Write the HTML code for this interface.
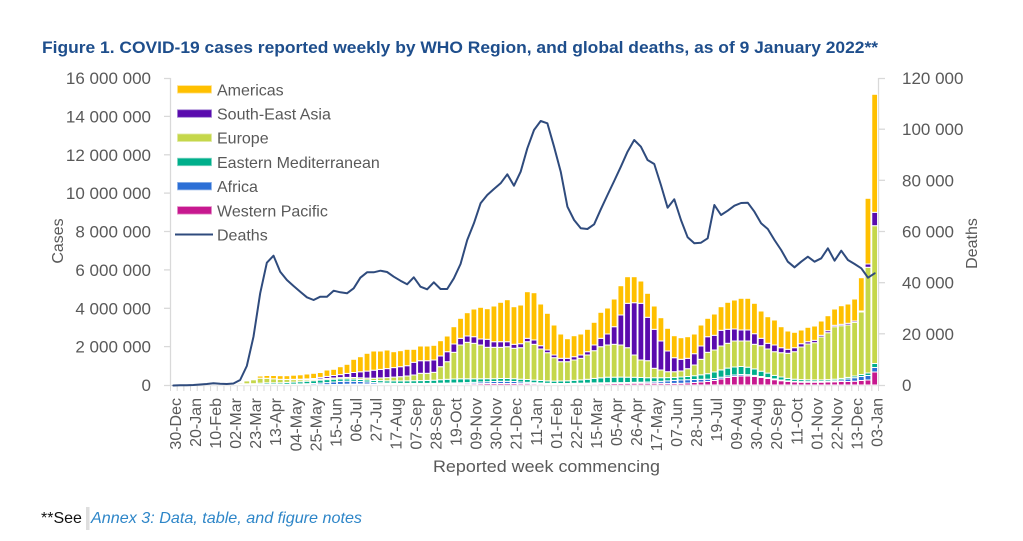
<!DOCTYPE html>
<html>
<head>
<meta charset="utf-8">
<style>
  html,body{margin:0;padding:0;background:#fff;}
  svg{display:block;}
  text{font-family:"Liberation Sans",Arial,sans-serif;}
</style>
</head>
<body>
<svg id="c" xmlns="http://www.w3.org/2000/svg" width="1023" height="541" viewBox="0 0 1023 541">
  <rect x="0" y="0" width="1023" height="541" fill="#ffffff"/>

  <!-- Title -->
  <text x="42" y="53" font-size="17" font-weight="bold" fill="#1E4E8C" textLength="836" lengthAdjust="spacingAndGlyphs">Figure 1. COVID-19 cases reported weekly by WHO Region, and global deaths, as of 9 January 2022**</text>

  <!-- Axes lines -->
  <g stroke="#D9D9D9" stroke-width="1.3" fill="none">
    <line x1="170.5" y1="78" x2="170.5" y2="385.5"/>
    <line x1="878.5" y1="78" x2="878.5" y2="385.5"/>
    <line x1="170" y1="385.5" x2="879" y2="385.5"/>
    <!-- left ticks -->
    <line x1="164" y1="385.5" x2="170.5" y2="385.5"/>
    <line x1="164" y1="346.6" x2="170.5" y2="346.6"/>
    <line x1="164" y1="308.3" x2="170.5" y2="308.3"/>
    <line x1="164" y1="269.9" x2="170.5" y2="269.9"/>
    <line x1="164" y1="231.5" x2="170.5" y2="231.5"/>
    <line x1="164" y1="193.1" x2="170.5" y2="193.1"/>
    <line x1="164" y1="154.8" x2="170.5" y2="154.8"/>
    <line x1="164" y1="116.4" x2="170.5" y2="116.4"/>
    <line x1="164" y1="78.5" x2="170.5" y2="78.5"/>
    <!-- right ticks -->
    <line x1="878.5" y1="385.5" x2="885" y2="385.5"/>
    <line x1="878.5" y1="333.8" x2="885" y2="333.8"/>
    <line x1="878.5" y1="282.7" x2="885" y2="282.7"/>
    <line x1="878.5" y1="231.5" x2="885" y2="231.5"/>
    <line x1="878.5" y1="180.3" x2="885" y2="180.3"/>
    <line x1="878.5" y1="129.2" x2="885" y2="129.2"/>
    <line x1="878.5" y1="78.5" x2="885" y2="78.5"/>
  </g>
  <g id="xticks" stroke="#D9D9D9" stroke-width="1"></g>

  <!-- Left axis labels -->
  <g font-size="17" fill="#595959" text-anchor="end">
    <text x="151" y="391">0</text>
    <text x="151" y="352.6">2 000 000</text>
    <text x="151" y="314.3">4 000 000</text>
    <text x="151" y="275.9">6 000 000</text>
    <text x="151" y="237.5">8 000 000</text>
    <text x="151" y="199.1">10 000 000</text>
    <text x="151" y="160.8">12 000 000</text>
    <text x="151" y="122.4">14 000 000</text>
    <text x="151" y="84">16 000 000</text>
  </g>
  <!-- Right axis labels -->
  <g font-size="17" fill="#595959" text-anchor="start">
    <text x="902" y="391">0</text>
    <text x="902" y="339.8">20 000</text>
    <text x="902" y="288.7">40 000</text>
    <text x="902" y="237.5">60 000</text>
    <text x="902" y="186.3">80 000</text>
    <text x="902" y="135.2">100 000</text>
    <text x="902" y="84">120 000</text>
  </g>

  <!-- Axis titles -->
  <text transform="translate(63,241) rotate(-90)" font-size="16" fill="#595959" text-anchor="middle">Cases</text>
  <text transform="translate(977,243.5) rotate(-90)" font-size="16" fill="#595959" text-anchor="middle">Deaths</text>
  <text x="433" y="472" font-size="17" fill="#595959" textLength="227" lengthAdjust="spacingAndGlyphs">Reported week commencing</text>

  <!-- Bars and line -->
  <g id="bars"></g>
  <polyline id="deaths" fill="none" stroke="#2F4B7D" stroke-width="2" stroke-linejoin="round" stroke-linecap="round" points=""/>

  <!-- X tick labels -->
  <g font-size="16" fill="#595959" text-anchor="end">
    <text transform="translate(181.0,398) rotate(-90)">30-Dec</text>
    <text transform="translate(201.1,398) rotate(-90)">20-Jan</text>
    <text transform="translate(221.1,398) rotate(-90)">10-Feb</text>
    <text transform="translate(241.2,398) rotate(-90)">02-Mar</text>
    <text transform="translate(261.2,398) rotate(-90)">23-Mar</text>
    <text transform="translate(281.2,398) rotate(-90)">13-Apr</text>
    <text transform="translate(301.3,398) rotate(-90)">04-May</text>
    <text transform="translate(321.3,398) rotate(-90)">25-May</text>
    <text transform="translate(341.4,398) rotate(-90)">15-Jun</text>
    <text transform="translate(361.4,398) rotate(-90)">06-Jul</text>
    <text transform="translate(381.4,398) rotate(-90)">27-Jul</text>
    <text transform="translate(401.5,398) rotate(-90)">17-Aug</text>
    <text transform="translate(421.5,398) rotate(-90)">07-Sep</text>
    <text transform="translate(441.6,398) rotate(-90)">28-Sep</text>
    <text transform="translate(461.6,398) rotate(-90)">19-Oct</text>
    <text transform="translate(481.6,398) rotate(-90)">09-Nov</text>
    <text transform="translate(501.7,398) rotate(-90)">30-Nov</text>
    <text transform="translate(521.7,398) rotate(-90)">21-Dec</text>
    <text transform="translate(541.8,398) rotate(-90)">11-Jan</text>
    <text transform="translate(561.8,398) rotate(-90)">01-Feb</text>
    <text transform="translate(581.8,398) rotate(-90)">22-Feb</text>
    <text transform="translate(601.9,398) rotate(-90)">15-Mar</text>
    <text transform="translate(621.9,398) rotate(-90)">05-Apr</text>
    <text transform="translate(642.0,398) rotate(-90)">26-Apr</text>
    <text transform="translate(662.0,398) rotate(-90)">17-May</text>
    <text transform="translate(682.0,398) rotate(-90)">07-Jun</text>
    <text transform="translate(702.1,398) rotate(-90)">28-Jun</text>
    <text transform="translate(722.1,398) rotate(-90)">19-Jul</text>
    <text transform="translate(742.2,398) rotate(-90)">09-Aug</text>
    <text transform="translate(762.2,398) rotate(-90)">30-Aug</text>
    <text transform="translate(782.2,398) rotate(-90)">20-Sep</text>
    <text transform="translate(802.3,398) rotate(-90)">11-Oct</text>
    <text transform="translate(822.3,398) rotate(-90)">01-Nov</text>
    <text transform="translate(842.4,398) rotate(-90)">22-Nov</text>
    <text transform="translate(862.4,398) rotate(-90)">13-Dec</text>
    <text transform="translate(882.4,398) rotate(-90)">03-Jan</text>
  </g>

  <!-- Legend -->
  <g stroke-width="0.8">
    <rect x="177.5" y="85.6" width="34" height="7.5" fill="#FFC000" stroke="#FFE08A"/>
    <rect x="177.5" y="109.8" width="34" height="7.5" fill="#5A0BAE" stroke="#9C7BD0"/>
    <rect x="177.5" y="134" width="34" height="7.5" fill="#C5D74B" stroke="#E0EAA0"/>
    <rect x="177.5" y="158.2" width="34" height="7.5" fill="#00AF8B" stroke="#80D6C4"/>
    <rect x="177.5" y="182.4" width="34" height="7.5" fill="#2C6FD6" stroke="#94B6EA"/>
    <rect x="177.5" y="206.6" width="34" height="7.5" fill="#C7188F" stroke="#E38CC6"/>
  </g>
  <line x1="175" y1="234.5" x2="213" y2="234.5" stroke="#2F4B7D" stroke-width="2"/>
  <g font-size="16" fill="#595959">
    <text x="217" y="95.3">Americas</text>
    <text x="217" y="119.5">South-East Asia</text>
    <text x="217" y="143.7">Europe</text>
    <text x="217" y="167.9">Eastern Mediterranean</text>
    <text x="217" y="192.1">Africa</text>
    <text x="217" y="216.3">Western Pacific</text>
    <text x="217" y="240.5">Deaths</text>
  </g>

  <!-- Footer -->
  <text x="41" y="523" font-size="16" fill="#111111">**See</text>
  <rect x="86" y="507" width="3.5" height="23" fill="#DEDEDE"/>
  <text x="91" y="523" font-size="16" font-style="italic" fill="#2E86C8" textLength="271" lengthAdjust="spacingAndGlyphs">Annex 3: Data, table, and figure notes</text>
</svg>

<script>
(function(){
var NS='http://www.w3.org/2000/svg';
var WP=[0,0,0.1,0.2,0.4,0.6,0.6,0.4,0.3, 0.2,0.2,0.2,0.3, 0.4,0.4,0.4,0.3,0.3,0.3,0.3,0.3, 0.3,0.4,0.4,0.5,0.6,0.8,0.9,1,1,1, 1,0.9,0.8,0.8,0.8,0.8,0.8,0.8,0.8,0.9, 0.9,1,1.1,1.2,1.3,1.4,1.5,1.5,1.5,1.5, 1.5,1.4,1.4,1.3,1.2,1,0.9,0.9,0.9,1, 1,1.1,1.2,1.3,1.4,1.5,1.6,1.7,1.8,1.8, 1.8,1.8,1.7,1.6,1.6,1.7,2,2.5,3,3.5, 4.5,6,7.5,8.5,9,9,8.5,7.5,6.5,5.3, 4.3,3.5,3,2.8,2.8,2.8,2.8,3,3.2,3.5, 3.5,3.8,4.5,5,13];
var AF=[0,0,0,0,0,0,0,0,0,0,0,0,0, .2,.3,.3,.4,.5,.6,.8,1, 1.2,1.5,2,2.5,3,3,2.8,2.5,2,1.5, 1.2,1,.9,.8,.8,.8,.8,.8,.8,.9, 1,1,1.1,1.2,1.4,1.6,1.8,2,2.2,2.2, 2,1.6,1.3,1,.8,.7,.6,.6,.6,.7, .8,.8,.9,.9,.9,.8,.8,.8,.9,1, 1.2,1.5,2,2.5,3,3.3,3.3,3,2.7,2.3, 2,1.8,1.6,1.5,1.5,1.3,1.1,1,.9,.8, .7,.6,.6,.6,.6,.6,.7,.8,1,1.5, 2.5,3.5,4,4.5,4.5];
var EM=[0,0,0,0,0,0,0,0,0, .3,.5,1,1, 1.2,1.5,1.5,1.5,1.8,2,2.2,2.5, 2.8,3,3,2.8,2.5,2.3,2.2,2,2,2, 2.2,2.3,2.4,2.5,2.6,2.7,2.8,3,3.2,3.5, 3.8,4,4,3.8,3.5,3.2,3,2.8,2.8,2.8, 2.8,2.8,2.8,2.6,2.5,2.4,2.4,2.5,2.7,3, 3.3,3.8,4.5,5,5.5,5.5,5.5,5.3,5,4.7, 4.3,4,3.6,3.3,3,3,3.2,3.8,4.5,5.5, 6.5,7.3,7.8,8,8,7.5,6.5,5.3,4.5,3.5, 3,2.5,2.2,2,1.8,1.7,1.6,1.6,1.6,1.6, 1.6,1.7,2,2.5,4];
var EU=[0,0,0,0,0,0,0,0,0, 1,1.9,4.2,5.3, 6.8,6.7,6.2,5.7,5.6,5.4,5.3,5.3, 5.5,6.1,6.6,7,7.4,7.6,7.5,7.2,6.9,6.8, 7.1,7.4,7.9, 8.3,9,10,11.7,11.7,12.7, 18.3,23.3,32.7,40,42.7,41.7,40,37.7,37.7,37.7, 38.3,36.7,37.3,43.3,40.7,36,32.3,27.3,23.3,23.3, 25,26.7,30,34.3,38.3,40,40.7,40,37.3,30, 25,24.3,16.7,15,13.3,13.3,14,16.3,20,25.7, 32.7,35,39,41.7,44,44,44,40.7,39.3,36, 33.3,32.3,31.7,33.3,38,41,42.3,48,52.3,58.3, 59.3,60,62.7,73,117.7,159.3];
var SEA=[0,0,0,0,0,0,0,0,0,0,0,0,0,0,0,0,0,0, 5.7,5.8,6.1,6.5,7.6,8.6,9.5,10.4,11.6,12.5,13.2,13.9,14.8,15.6,16.4,17.4, 18.3,19.3,22.7,24.3,24.3,25, 29,33.3,41,46.7,49,48.3,46,45.7,43.3,43.3, 43.3,40.7,41.3,46.7,45,39.3,35,30,26.7,26.7, 28.3,30,33.3,40,46.7,51,58.3,70,81.7,82.3, 81.7,67.7,55.7,44,34,27.3,25.7,26.7,31.3,39, 48.3,49.7,54.7,55.7,56,55,55,51.3,46.7,41.7, 40,37.3,35.7,37.3,41.3,43.3,44.7,49.7,54.3,59.7, 60.7,61.7,64,74,121,172.7];
var AM=[0,0,0,0,0,0,0,0,0, 1.2,2.2,4.6,6.3,9,9.5,9.5,9.3,9.3,9.8,10.2,11,11.7,12.5,15,15.7,18.3,20.7,25.7,28.3,31.7,34,34,35,33.3, 34.3,35.7,35.7,39,39,39.7, 44.3,49,58.3,66.7,72.3,76,77.7,76.3,79,82.7, 85.3,78.3,80,93.3,92.3,81,71.7,60,51,46.3, 49.3,51,55.7,62.7,72.7,77,86,99.3,108.3,108.3, 104,91.7,79,67.3,56.7,49.3,47.3,48.3,51,60, 66.7,71,78.3,82.7,85,86.7,86.7,81.7,74,68.3, 65,58.3,54,52.7,55,57.7,59,64,69.3,76, 79.3,81,86,107.3,186.7,290.7];
var D=[385.5,385.3,385.2,385,384.5,384,383.3,383.8,384,383.5, 380,366,336.7,293.3,262.7,255.7,271.7,280,286,291.7, 297.3,300,296.7,296.7,290.7,292.3,293.3,288.3,277.7,272.3, 272.3,270.7,272,276.7,280.7,284.3,277.3,286.7,289.3,282.3, 289,289,278.3,264,240,223.3,203.3,195,189,183.3, 174.3,185.7,171.7,148.3,130,121,123.3,146.7,171.7,206.7, 220,228.3,229,224.3,209.3,195,181,166.7,151.7,140, 146.7,160,164,185,207.7,199.3,220,237.3,243.3,242.7, 238.3,205,215,210.7,205.7,203,202.7,211.7,223.3,229, 240,250,261.7,267.3,261.7,256.7,261.7,258.3,248.3,260.7, 250.7,260,264,268.3,277.7,273.3];
var cols=['#C7188F','#2C6FD6','#00AF8B','#C5D74B','#5A0BAE','#FFC000'];
var g=document.getElementById('bars');
var step=708/106, base=385;
var pts=[];
for(var i=0;i<106;i++){
  var cx=170+step*(i+0.5);
  var c1=WP[i], c2=c1+AF[i], c3=c2+EM[i];
  var c4=Math.max(EU[i]||0,c3), c5=Math.max(SEA[i]||0,c4), c6=Math.max(AM[i]||0,c5);
  var tops=[c1,c2,c3,c4,c5,c6], prev=0;
  for(var k=0;k<6;k++){
    var h=tops[k]-prev;
    if(h>0.05){
      var r=document.createElementNS(NS,'rect');
      r.setAttribute('x',(cx-2.9).toFixed(2));
      r.setAttribute('y',(base-tops[k]).toFixed(2));
      r.setAttribute('width','5.8');
      r.setAttribute('height',h.toFixed(2));
      r.setAttribute('fill',cols[k]);
      r.setAttribute('stroke','#ffffff');
      r.setAttribute('stroke-width','1');
      g.appendChild(r);
    }
    prev=tops[k];
  }
  pts.push(cx.toFixed(2)+','+D[i]);
}
document.getElementById('deaths').setAttribute('points',pts.join(' '));
var xt=document.getElementById('xticks');
for(var j=0;j<=106;j++){
  var x=170.5+step*j;
  var l=document.createElementNS(NS,'line');
  l.setAttribute('x1',x.toFixed(2)); l.setAttribute('x2',x.toFixed(2));
  l.setAttribute('y1','385.5'); l.setAttribute('y2','391');
  xt.appendChild(l);
}
})();
</script>
</body>
</html>
